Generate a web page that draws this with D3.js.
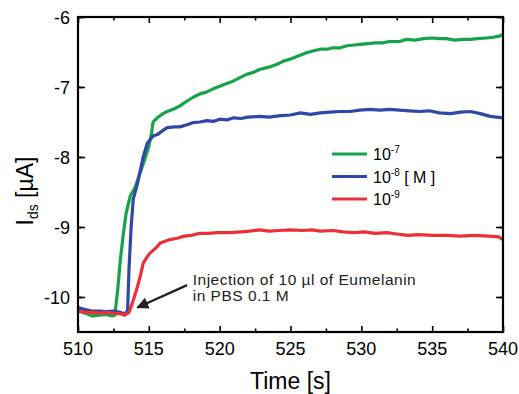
<!DOCTYPE html>
<html>
<head>
<meta charset="utf-8">
<script src="https://cdn.jsdelivr.net/npm/d3@7"></script>
<style>
  body { margin: 0; background: #fff; }
  svg { display: block; font-family: "Liberation Sans", Arial, sans-serif; }
</style>
</head>
<body>
<svg id="chart" width="519" height="394"></svg>
<script>
// data
const greenT = [510, 510.5, 511, 511.5, 512, 512.4, 512.6, 512.8, 513.0, 513.2, 513.4, 513.7, 514.0, 514.4, 514.7, 515.0, 515.2, 515.3, 515.6, 516.0, 516.3, 516.8, 517.2, 517.7, 518.1, 518.6, 519.1, 519.5, 520.0, 520.5, 520.9, 521.4, 521.9, 522.4, 522.8, 523.4, 524.0, 524.5, 525.0, 525.5, 526.0, 526.5, 527.1, 527.6, 528.0, 528.5, 529.0, 529.5, 529.9, 530.5, 531.0, 531.5, 532.0, 532.7, 533.2, 533.8, 534.4, 535.0, 535.5, 536.0, 536.6, 537.2, 537.7, 538.2, 538.8, 539.3, 539.8, 540];
const greenV = [-10.2, -10.23, -10.27, -10.26, -10.25, -10.27, -10.26, -9.9, -9.45, -9.1, -8.8, -8.55, -8.45, -8.22, -8.04, -7.85, -7.65, -7.5, -7.44, -7.38, -7.35, -7.31, -7.27, -7.2, -7.15, -7.1, -7.07, -7.03, -6.99, -6.95, -6.92, -6.87, -6.82, -6.79, -6.75, -6.72, -6.68, -6.63, -6.6, -6.56, -6.52, -6.49, -6.46, -6.46, -6.44, -6.44, -6.41, -6.4, -6.39, -6.38, -6.37, -6.37, -6.35, -6.35, -6.32, -6.33, -6.31, -6.3, -6.31, -6.31, -6.33, -6.32, -6.32, -6.31, -6.3, -6.29, -6.27, -6.25];

const blueT = [510, 510.5, 511, 511.5, 512, 512.5, 513.0, 513.3, 513.5, 513.6, 513.75, 513.9, 514.2, 514.6, 514.9, 515.3, 515.6, 516.0, 516.3, 516.8, 517.2, 517.7, 518.1, 518.6, 519.1, 519.6, 520.0, 520.5, 521.0, 521.5, 522.0, 522.8, 523.5, 524.3, 525.0, 525.7, 526.4, 527.1, 527.8, 528.5, 529.2, 529.9, 530.6, 531.3, 532.0, 532.7, 533.4, 534.1, 534.8, 535.5, 536.3, 537.0, 537.7, 538.4, 539.1, 540];
const blueV = [-10.15, -10.18, -10.2, -10.2, -10.21, -10.2, -10.22, -10.24, -10.2, -9.6, -9.0, -8.6, -8.38, -8.0, -7.8, -7.7, -7.68, -7.62, -7.58, -7.57, -7.57, -7.54, -7.51, -7.5, -7.48, -7.49, -7.46, -7.47, -7.44, -7.45, -7.43, -7.42, -7.43, -7.41, -7.4, -7.37, -7.39, -7.37, -7.36, -7.35, -7.35, -7.33, -7.32, -7.33, -7.32, -7.33, -7.34, -7.35, -7.34, -7.37, -7.38, -7.36, -7.35, -7.38, -7.42, -7.44];

const redT = [510, 510.5, 511, 511.5, 512, 512.5, 513.0, 513.3, 513.6, 513.9, 514.2, 514.4, 514.6, 514.9, 515.1, 515.5, 515.8, 516.2, 516.5, 517.0, 517.5, 518.0, 518.6, 519.2, 519.8, 520.7, 521.5, 522.1, 522.8, 523.5, 524.2, 525.0, 525.8, 526.5, 527.1, 528.0, 528.7, 529.5, 530.2, 531.0, 531.8, 532.5, 533.3, 534.0, 535.0, 536.0, 537.0, 538.0, 539.0, 539.7, 540];
const redV = [-10.2, -10.22, -10.22, -10.23, -10.22, -10.23, -10.24, -10.26, -10.22, -10.05, -9.85, -9.7, -9.52, -9.42, -9.37, -9.3, -9.23, -9.2, -9.18, -9.16, -9.13, -9.12, -9.09, -9.09, -9.08, -9.08, -9.07, -9.06, -9.04, -9.06, -9.05, -9.04, -9.05, -9.04, -9.06, -9.05, -9.07, -9.08, -9.07, -9.09, -9.08, -9.1, -9.12, -9.11, -9.12, -9.12, -9.13, -9.12, -9.13, -9.14, -9.18];

const seriesNames = ["10", "10", "10"];
const seriesExps = ["-7", "-8", "-9"];
const seriesColors = ["#17a34a", "#2f48a8", "#ec3038"];

const xTicks = [510, 515, 520, 525, 530, 535, 540];
const yTicks = [-6, -7, -8, -9, -10];

// annotation: arrow start/end and text anchor in data units
const arrowFrom = [517.7, -9.83];
const arrowTo = [514.2, -10.15];
const noteAt = [518.1, -9.8];
const noteLines = ["Injection of 10 \u00b5l of Eumelanin", "in PBS 0.1 M"];

const svg = d3.select("#chart");
const mLeft = 78, mRight = 503, mTop = 17, mBottom = 332;

const x = d3.scaleLinear().domain([510, 540]).range([mLeft, mRight]);
const y = d3.scaleLinear().domain([-10.5, -6]).range([mBottom, mTop]);

// minor ticks every half step
const xMinor = d3.range(512.5, 540, 5);
const yMinor = d3.range(-10.5, -6, 1).map(d => d + 0.5);

const axisStyle = g => {
  g.select(".domain").remove();
  g.selectAll("line").attr("stroke", "#000").attr("stroke-width", 1.6);
};

// major + minor ticks on all four sides, pointing inward
svg.append("g").attr("transform", `translate(0,${mBottom})`)
  .call(d3.axisBottom(x).tickValues(xTicks).tickSize(-6).tickFormat(""))
  .call(axisStyle);
svg.append("g").attr("transform", `translate(0,${mBottom})`)
  .call(d3.axisBottom(x).tickValues(xMinor).tickSize(-3.5).tickFormat(""))
  .call(axisStyle);
svg.append("g").attr("transform", `translate(0,${mTop})`)
  .call(d3.axisTop(x).tickValues(xTicks).tickSize(-6).tickFormat(""))
  .call(axisStyle);
svg.append("g").attr("transform", `translate(0,${mTop})`)
  .call(d3.axisTop(x).tickValues(xMinor).tickSize(-3.5).tickFormat(""))
  .call(axisStyle);
svg.append("g").attr("transform", `translate(${mLeft},0)`)
  .call(d3.axisLeft(y).tickValues(yTicks).tickSize(-7).tickFormat(""))
  .call(axisStyle);
svg.append("g").attr("transform", `translate(${mLeft},0)`)
  .call(d3.axisLeft(y).tickValues(yMinor).tickSize(-4).tickFormat(""))
  .call(axisStyle);
svg.append("g").attr("transform", `translate(${mRight},0)`)
  .call(d3.axisRight(y).tickValues(yTicks).tickSize(-7).tickFormat(""))
  .call(axisStyle);
svg.append("g").attr("transform", `translate(${mRight},0)`)
  .call(d3.axisRight(y).tickValues(yMinor).tickSize(-4).tickFormat(""))
  .call(axisStyle);

// tick labels
svg.append("g").selectAll("text").data(xTicks).join("text")
  .attr("x", d => x(d)).attr("y", 355)
  .attr("text-anchor", "middle").attr("font-size", 18)
  .text(d => d);
svg.append("g").selectAll("text").data(yTicks).join("text")
  .attr("x", 70).attr("y", d => y(d) + 6.5)
  .attr("text-anchor", "end").attr("font-size", 18)
  .text(d => d);

// curves
const line = d3.line().x(d => x(d[0])).y(d => y(d[1]));
const curves = [
  d3.zip(greenT, greenV),
  d3.zip(blueT, blueV),
  d3.zip(redT, redV)
];
const plot = svg.append("g");
plot.selectAll("path").data(curves).join("path")
  .attr("d", line)
  .attr("fill", "none")
  .attr("stroke", (d, i) => seriesColors[i])
  .attr("stroke-width", 3.2)
  .attr("stroke-linejoin", "round");

// frame
svg.append("rect")
  .attr("x", mLeft).attr("y", mTop)
  .attr("width", mRight - mLeft).attr("height", mBottom - mTop)
  .attr("fill", "none").attr("stroke", "#000").attr("stroke-width", 2.2);

// axis titles
svg.append("text")
  .attr("x", (mLeft + mRight) / 2).attr("y", 389)
  .attr("text-anchor", "middle").attr("font-size", 23)
  .text("Time [s]");

const yTitle = svg.append("text")
  .attr("transform", "translate(33,191) rotate(-90)")
  .attr("text-anchor", "middle").attr("font-size", 23);
yTitle.append("tspan").text("I");
yTitle.append("tspan").attr("font-size", 14).attr("dy", 5).text("ds");
yTitle.append("tspan").attr("dy", -5).text(" [\u00b5A]");

// legend
const legend = svg.append("g");
const rowY = [154, 176.5, 199];
seriesColors.forEach((c, i) => {
  legend.append("line")
    .attr("x1", 332).attr("x2", 367)
    .attr("y1", rowY[i]).attr("y2", rowY[i])
    .attr("stroke", c).attr("stroke-width", 3.2);
  const t = legend.append("text")
    .attr("x", 373).attr("y", rowY[i] + 6).attr("font-size", 16);
  t.append("tspan").text(seriesNames[i]);
  t.append("tspan").attr("font-size", 10).attr("dy", -7).text(seriesExps[i]);
  if (i === 1) t.append("tspan").attr("dy", 7).text(" [ M ]");
});

// annotation
svg.append("defs").append("marker")
  .attr("id", "head").attr("viewBox", "0 0 10 10")
  .attr("refX", 9).attr("refY", 5)
  .attr("markerWidth", 5).attr("markerHeight", 5)
  .attr("orient", "auto")
  .append("path").attr("d", "M0,0L10,5L0,10z").attr("fill", "#222");

svg.append("line")
  .attr("x1", x(arrowFrom[0])).attr("y1", y(arrowFrom[1]))
  .attr("x2", x(arrowTo[0])).attr("y2", y(arrowTo[1]))
  .attr("stroke", "#222").attr("stroke-width", 2.4)
  .attr("marker-end", "url(#head)");

svg.append("g").selectAll("text").data(noteLines).join("text")
  .attr("x", x(noteAt[0])).attr("y", (d, i) => y(noteAt[1]) + 2 + i * 16)
  .attr("font-size", 15.5).attr("letter-spacing", 0.5).attr("fill", "#222")
  .text(d => d);
</script>
</body>
</html>
